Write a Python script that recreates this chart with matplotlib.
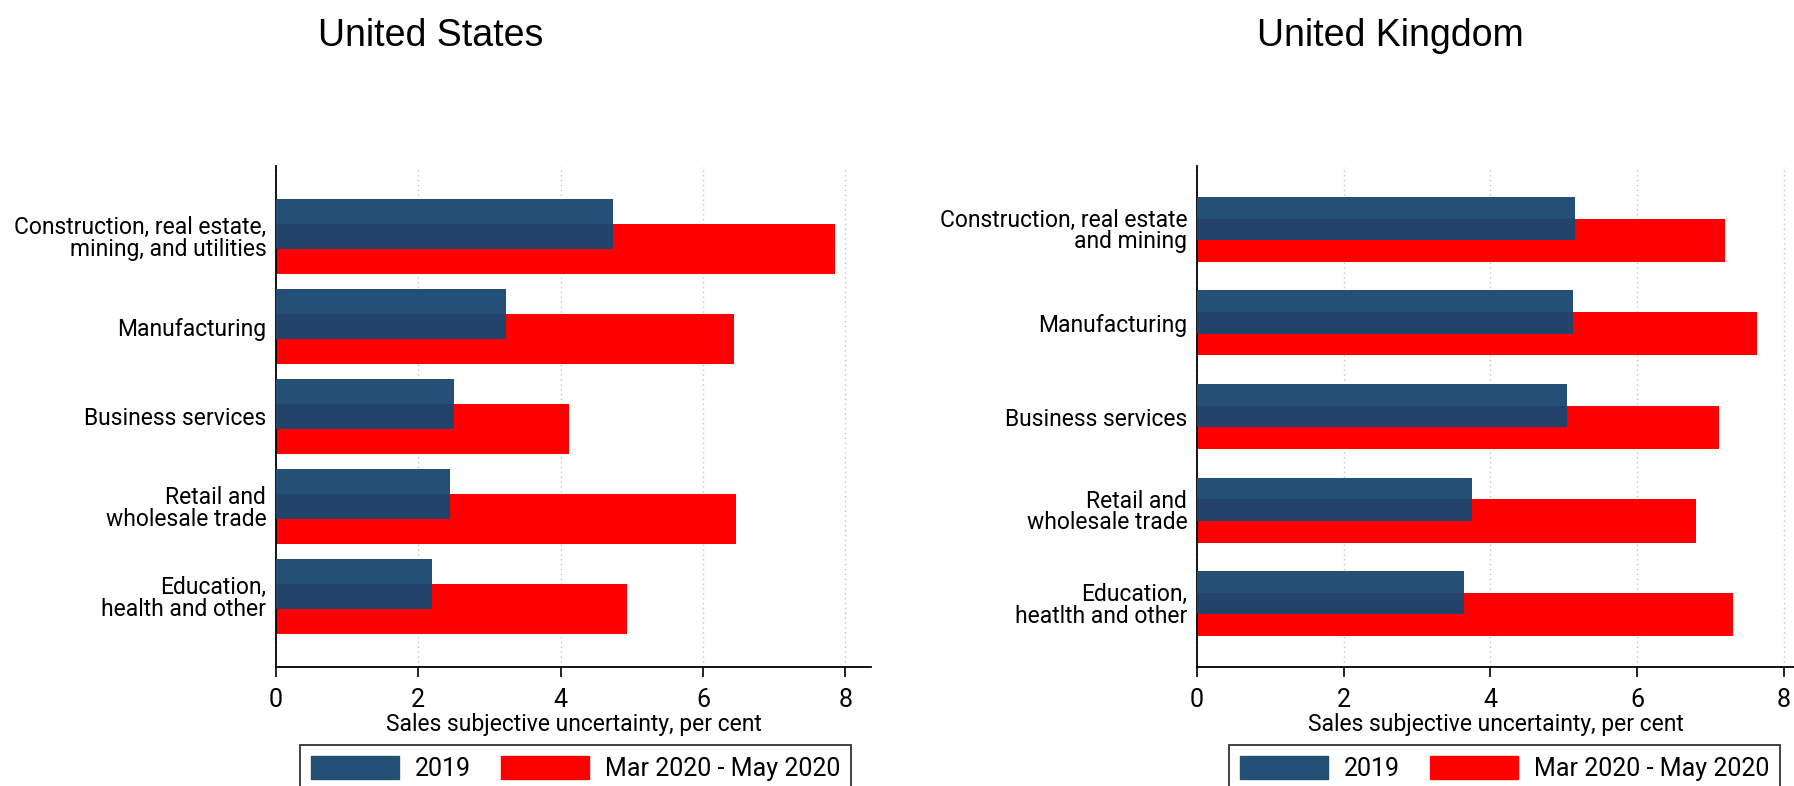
import matplotlib.pyplot as plt
import matplotlib.patches as mpatches
import numpy as np

# sektörler ve değerler (2019 / Mar-May 2020)
us_sectors = ["Construction, real estate,\nmining, and utilities", "Manufacturing",
              "Business services", "Retail and\nwholesale trade", "Education,\nhealth and other"]
us_2019 = [4.74, 3.23, 2.50, 2.44, 2.19]
us_2020 = [7.86, 6.44, 4.12, 6.46, 4.93]

uk_sectors = ["Construction, real estate\nand mining", "Manufacturing",
              "Business services", "Retail and\nwholesale trade", "Education,\nheatlth and other"]
uk_2019 = [5.16, 5.13, 5.05, 3.75, 3.64]
uk_2020 = [7.20, 7.63, 7.12, 6.81, 7.31]

xticks = [0, 2, 4, 6, 8]
labels = ["2019", "Mar 2020 - May 2020"]

blue = "#244f77"
blue_dark = "#23436a"
red = "#ff0000"
narrow = ["DejaVu Sans Condensed", "Roboto"]

W, H = 1794, 786
fig = plt.figure(figsize=(W / 100, H / 100), dpi=100)


def panel(left_px, width_px, sectors, v19, v20, h, xmax):
    ax = fig.add_axes([left_px / W, 1 - 667 / H, width_px / W, (667 - 166) / H])
    y = np.arange(len(sectors))
    d = h / 2
    ax.set_axisbelow(True)
    ax.xaxis.grid(True, color="#c4c4c4", linestyle=(0, (1, 2.5)), linewidth=1)
    ax.barh(y + d / 2, v20, height=h, color=red, zorder=2)
    ax.barh(y - d / 2, v19, height=h, color=blue, zorder=3)
    # blue over red overlap is darker
    ax.barh(y, np.minimum(v19, v20), height=h - d, color=blue_dark, zorder=4)
    ext = d / 2 + h / 2
    margin = 0.33 if h < 0.5 else 0.367
    ax.set_ylim(len(sectors) - 1 + ext + margin, -ext - margin)
    ax.set_xlim(0, xmax)
    ax.set_yticks(y)
    ax.set_yticklabels(sectors, family=narrow, fontsize=16.5, linespacing=0.92)
    ax.set_xticks(xticks)
    ax.set_xticklabels([str(t) for t in xticks], family=narrow, fontsize=18)
    ax.tick_params(axis="y", length=0, pad=7)
    ax.tick_params(axis="x", length=7, width=1.2, pad=8)
    for s in ["top", "right"]:
        ax.spines[s].set_visible(False)
    for s in ["left", "bottom"]:
        ax.spines[s].set_linewidth(1.3)
    ax.set_xlabel("Sales subjective uncertainty, per cent", family=narrow,
                  fontsize=16.5, labelpad=1)
    return ax


ax1 = panel(276, 595, us_sectors, us_2019, us_2020, 0.556, 8.36)
ax2 = panel(1197, 597, uk_sectors, uk_2019, uk_2020, 0.463, 8.14)

fig.text(431 / W, 1 - 46 / H, "United States", ha="center", va="baseline",
         fontsize=27, family=["Liberation Sans", "DejaVu Sans"])
fig.text(1390 / W, 1 - 46 / H, "United Kingdom", ha="center", va="baseline",
         fontsize=27, family=["Liberation Sans", "DejaVu Sans"])

handles = [mpatches.Patch(color=blue), mpatches.Patch(color=red)]
for lx in [300, 1229]:
    leg = fig.legend(handles, labels, loc="upper left",
                     bbox_to_anchor=(lx / W, 1 - 745 / H), ncol=2,
                     prop={"family": narrow, "size": 18}, frameon=True,
                     fancybox=False, edgecolor="black", handlelength=3.5,
                     handleheight=1.0, handletextpad=0.65, columnspacing=1.2,
                     borderpad=0.45, borderaxespad=0)
    leg.get_frame().set_linewidth(1.3)

fig.savefig("out.png", dpi=100)
